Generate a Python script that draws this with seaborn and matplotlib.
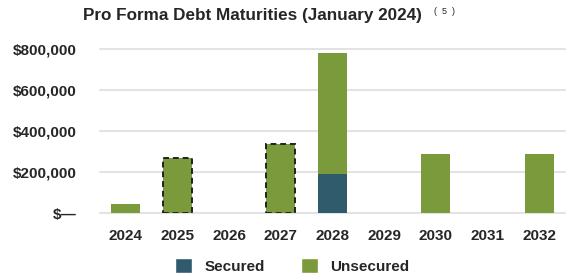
import pandas as pd
import seaborn as sns
import matplotlib.pyplot as plt
from matplotlib.patches import Patch
from matplotlib.ticker import FuncFormatter

# debt maturities
years = ['2024', '2025', '2026', '2027', '2028', '2029', '2030', '2031', '2032']
secured = [0, 0, 0, 0, 190000, 0, 0, 0, 0]
unsecured = [45000, 270000, 0, 340000, 590000, 0, 290000, 0, 290000]
dashed_years = ['2025', '2027']
y_ticks = [0, 200000, 400000, 600000, 800000]

green = '#7a9a3b'
teal = '#2f5b6d'

df = pd.DataFrame({'year': years, 'secured': secured, 'unsecured': unsecured})
df['total'] = df['secured'] + df['unsecured']

sns.set_style('white')
plt.rcParams['font.family'] = ['Liberation Sans', 'DejaVu Sans']
plt.rcParams['font.weight'] = 'bold'

fig = plt.figure(figsize=(5.66, 2.8), dpi=100)
ax = fig.add_axes([100 / 566, 1 - 213.3 / 280, 465 / 566, 164 / 280])

# stacked bars: total in green, secured part over it
sns.barplot(data=df, x='year', y='total', color=green, width=0.56,
            saturation=1, linewidth=0, ax=ax, zorder=3)
sns.barplot(data=df, x='year', y='secured', color=teal, width=0.56,
            saturation=1, linewidth=0, ax=ax, zorder=4)

# pro forma bars get a dashed outline
for patch, yr in zip(ax.patches[:len(years)], years):
    if yr in dashed_years:
        patch.set_edgecolor('#222222')
        patch.set_linestyle((0, (3, 2)))
        patch.set_linewidth(1.4)

ax.set_ylim(0, 800000)
ax.set_xlim(-0.5, len(years) - 0.5)
ax.set_yticks(y_ticks)
ax.yaxis.set_major_formatter(FuncFormatter(lambda v, p: '$—' if v == 0 else f'${v:,.0f}'))
ax.set_xlabel('')
ax.set_ylabel('')
ax.grid(axis='y', color='#e3e3e3', linewidth=1.5, zorder=0)
for gl in ax.get_ygridlines():
    gl.set_clip_on(False)
ax.tick_params(axis='y', length=0, pad=17, labelsize=11)
ax.tick_params(axis='x', length=0, pad=11, labelsize=11)
for lbl in ax.get_xticklabels() + ax.get_yticklabels():
    lbl.set_fontweight('bold')
sns.despine(ax=ax, left=True, bottom=True)

fig.text(83 / 566, 1 - 20 / 280, 'Pro Forma Debt Maturities (January 2024)',
         fontsize=12.3, fontweight='bold', va='baseline', ha='left')
fig.text(434 / 566, 1 - 14 / 280, '(  5  )', fontsize=6.5, fontweight='normal',
         va='baseline', ha='left')

handles = [Patch(facecolor=teal, label='Secured'), Patch(facecolor=green, label='Unsecured')]
fig.legend(handles=handles, loc='center', bbox_to_anchor=(292.5 / 566, 1 - 266 / 280),
           ncol=2, frameon=False, prop={'size': 11, 'weight': 'bold'},
           handlelength=1.1, handleheight=1.1, handletextpad=0.8, columnspacing=2.4)

plt.savefig('out.png', dpi=100)
